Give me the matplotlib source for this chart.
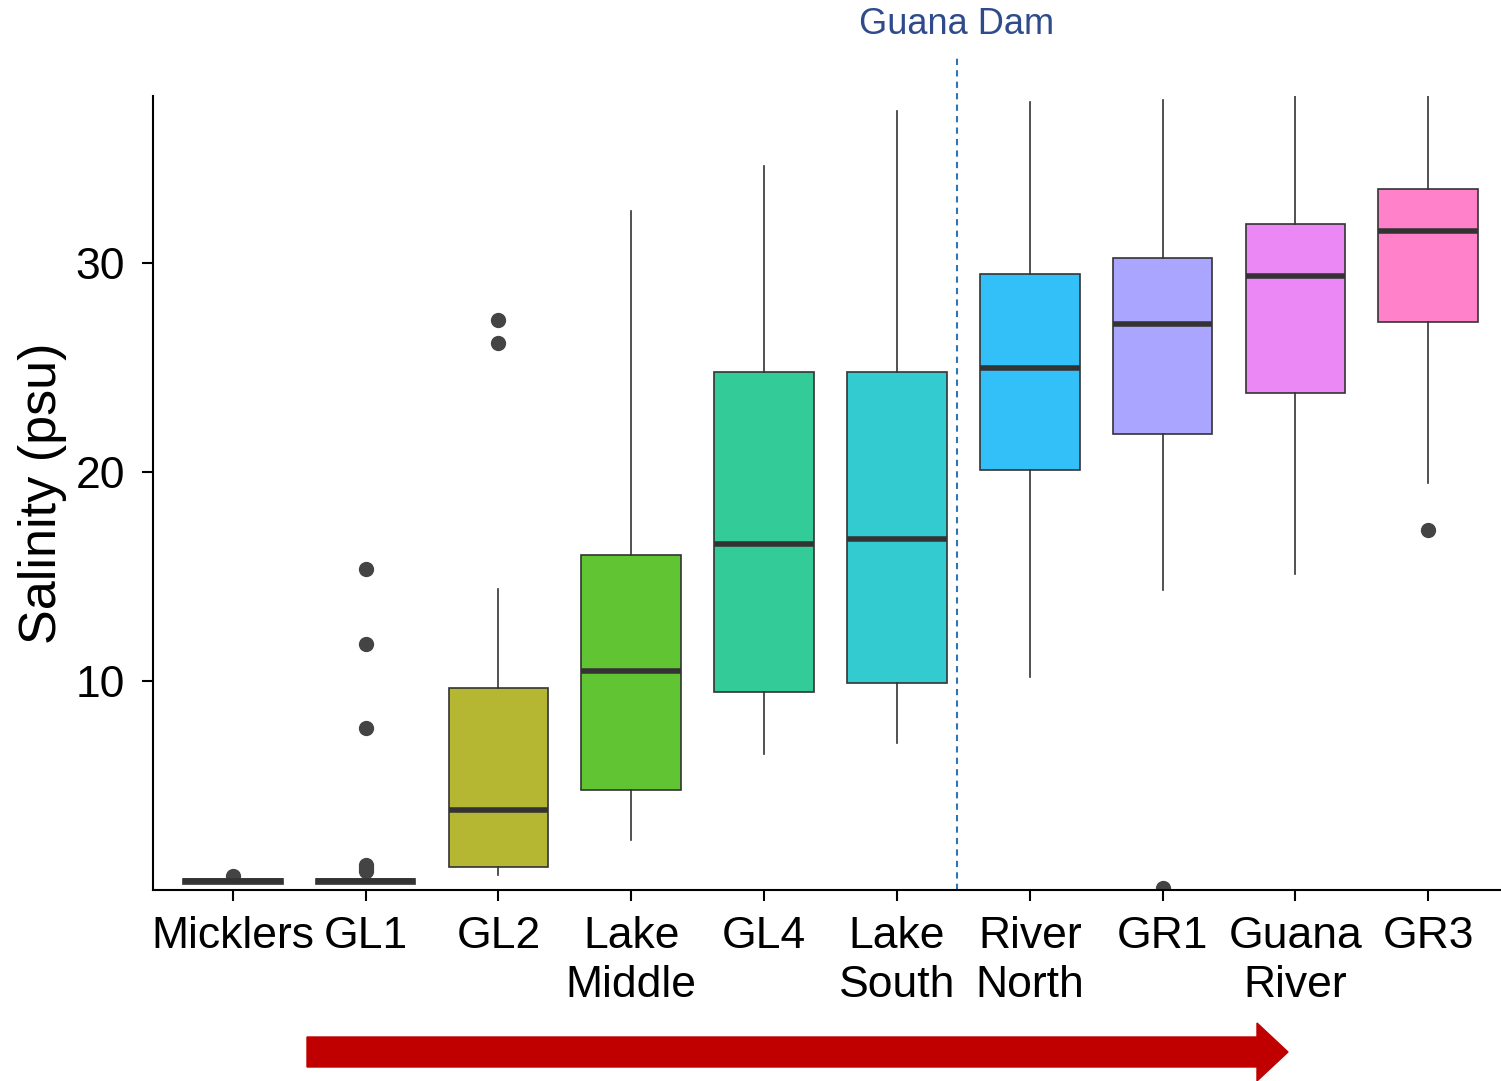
import matplotlib
matplotlib.use("Agg")
import matplotlib.pyplot as plt
from matplotlib.patches import FancyArrow

plt.rcParams['font.family'] = ['Liberation Sans', 'DejaVu Sans']

# sites, upstream -> downstream
sites = ['Micklers', 'GL1', 'GL2', 'Lake\nMiddle', 'GL4', 'Lake\nSouth',
         'River\nNorth', 'GR1', 'Guana\nRiver', 'GR3']

# boxplot stats (salinity, psu)
q1 = [0.29, 0.29, 1.1, 4.78, 9.47, 9.9, 20.1, 21.82, 23.78, 27.18]
med = [0.43, 0.43, 3.83, 10.48, 16.56, 16.79, 24.98, 27.08, 29.38, 31.53]
q3 = [0.53, 0.53, 9.67, 16.03, 24.78, 24.78, 29.47, 30.24, 31.87, 33.54]
whislo = [0.29, 0.29, 0.72, 2.39, 6.5, 7.03, 10.19, 14.35, 15.12, 19.47]
whishi = [0.53, 0.53, 14.4, 32.5, 34.64, 37.27, 37.7, 37.8, 38.0, 38.0]
fliers = [[0.67], [15.36, 11.77, 7.75, 1.2, 1.05, 0.9], [27.27, 26.17],
          [], [], [], [], [0.1], [], [17.22]]

# ggplot hue palette
colors = ['#F8766D', '#D89000', '#A3A500', '#39B600', '#00BF7D',
          '#00BFC4', '#00B0F6', '#9590FF', '#E76BF3', '#FF62BC']

dam_pos = 5.45

fig = plt.figure(figsize=(15.01, 10.81), dpi=100)
ax = fig.add_axes([153/1501, (1081-890)/1081, (1500-153)/1501, (890-96)/1081])

stats = []
for i in range(len(sites)):
    stats.append(dict(q1=q1[i], med=med[i], q3=q3[i], whislo=whislo[i],
                      whishi=whishi[i], fliers=fliers[i]))

bp = ax.bxp(stats, positions=range(len(sites)), widths=0.75, patch_artist=True,
            showcaps=False,
            boxprops=dict(edgecolor='#333333', linewidth=1.2),
            whiskerprops=dict(color='#333333', linewidth=1.2),
            medianprops=dict(color='#333333', linewidth=4, solid_capstyle='butt'),
            flierprops=dict(marker='o', markerfacecolor='#444444',
                            markeredgecolor='#444444', markersize=10))
for patch, c in zip(bp['boxes'], colors):
    patch.set_facecolor(matplotlib.colors.to_rgba(c, 0.8))

ax.set_xlim(-0.6, 9.54)
ax.set_ylim(0, 38)
ax.set_yticks([10, 20, 30])
ax.set_xticks(range(len(sites)))
ax.set_xticklabels(sites, linespacing=1.25)
ax.tick_params(labelsize=32, length=8, width=1.5, colors='black')
ax.tick_params(axis='x', pad=11)
ax.tick_params(axis='y', pad=12)
ax.set_ylabel('Salinity (psu)', fontsize=37.5, labelpad=6)

for s in ['top', 'right']:
    ax.spines[s].set_visible(False)
for s in ['left', 'bottom']:
    ax.spines[s].set_linewidth(1.5)

# dam location
ax.axvline(dam_pos, ymin=0, ymax=(890-55)/(890-96), color='#2E75B6',
           linestyle=(0, (3, 2.5)), linewidth=1.5, clip_on=False)
fig.text(957/1501, 1-25/1081, 'Guana Dam', ha='center', va='center',
         fontsize=26, color='#2F4B8C')

# flow direction arrow
arr = FancyArrow(3.07, (1081-1052)/100, 9.81, 0, width=0.30, head_width=0.58,
                 head_length=0.31, length_includes_head=True,
                 color='#C00000', transform=fig.dpi_scale_trans)
fig.patches.append(arr)

fig.savefig('out.png', dpi=100)
